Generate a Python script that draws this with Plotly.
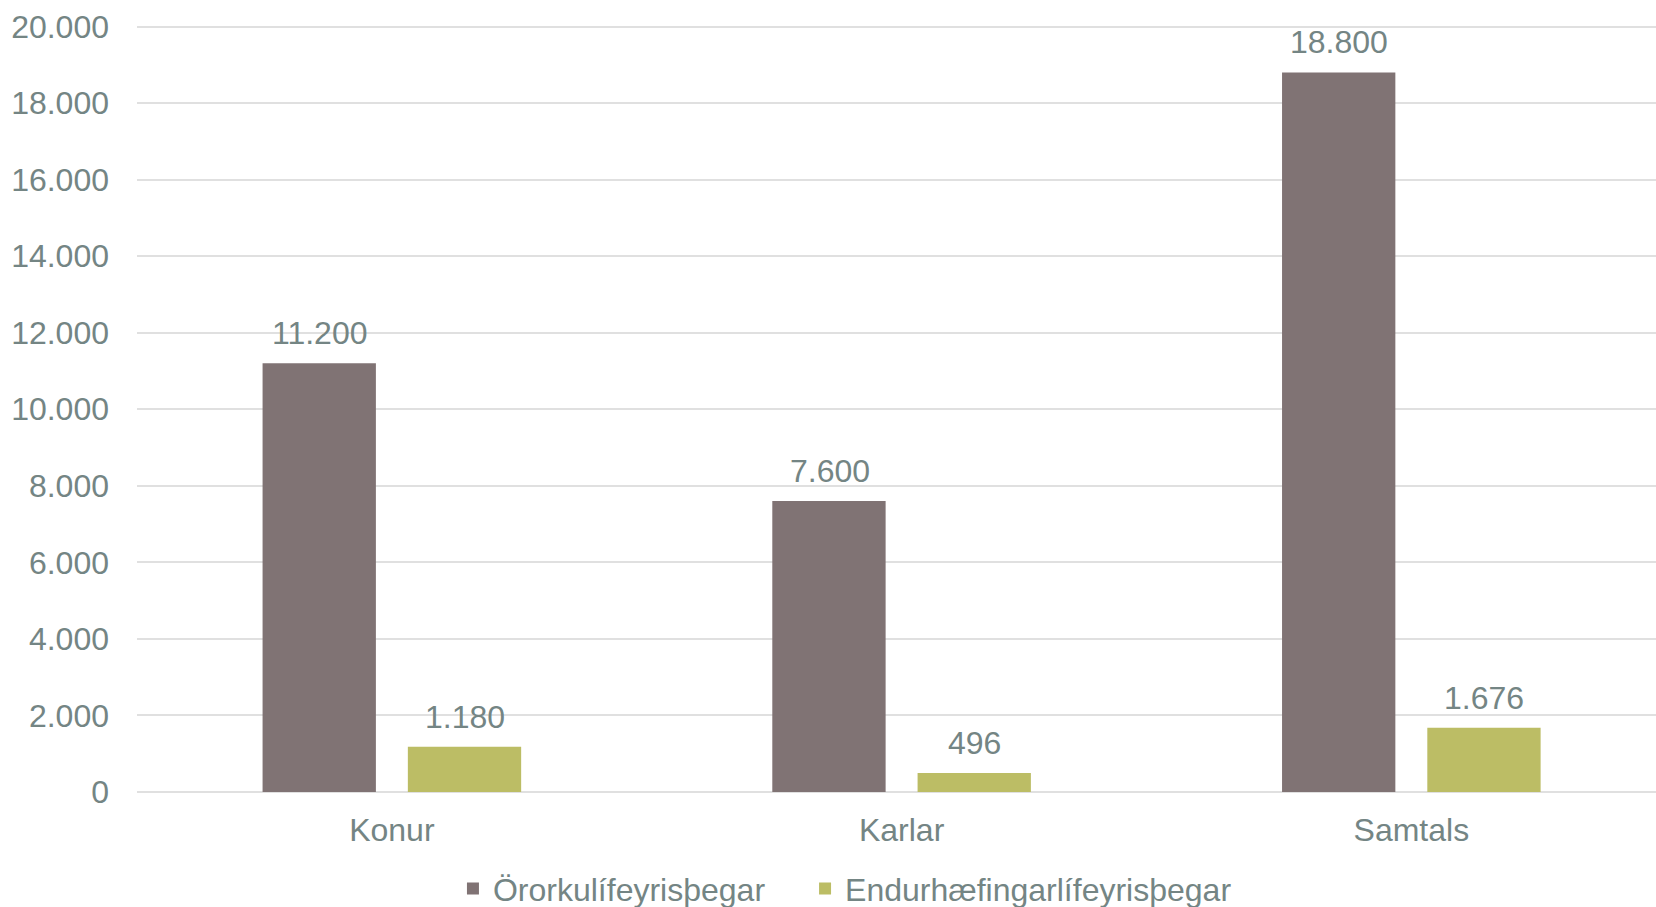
import plotly.graph_objects as go

categories = ["Konur", "Karlar", "Samtals"]
series_names = ["Örorkulífeyrisþegar", "Endurhæfingarlífeyrisþegar"]
ororka = [11200, 7600, 18800]
endurhaefing = [1180, 496, 1676]
y_ticks = [0, 2000, 4000, 6000, 8000, 10000, 12000, 14000, 16000, 18000, 20000]

TEXT = "#748584"
FONT = "Liberation Sans, Arial, sans-serif"
FS = 32

fig = go.Figure()
fig.add_trace(go.Bar(
    x=categories, y=ororka, name=series_names[0],
    marker=dict(color="#807374", line=dict(width=0)),
    legend="legend",
))
fig.add_trace(go.Bar(
    x=categories, y=endurhaefing, name=series_names[1],
    marker=dict(color="#BCBD65", line=dict(width=0)),
    legend="legend2",
))

def fmt(v):
    return f"{v:,}".replace(",", ".")

annotations = []
for series, shift in ((ororka, -72), (endurhaefing, 73)):
    for c, v in zip(categories, series):
        annotations.append(dict(
            x=c, y=v, xref="x", yref="y", text=fmt(v), showarrow=False,
            xshift=shift, yshift=30, yanchor="middle",
            font=dict(size=FS, color=TEXT, family=FONT),
        ))

legend_common = dict(orientation="h", xanchor="left", y=-0.126, yanchor="middle",
                     font=dict(size=FS, color=TEXT, family=FONT), itemwidth=30,
                     bgcolor="rgba(0,0,0,0)")

fig.update_layout(
    width=1656, height=907,
    margin=dict(l=137, r=0, t=25, b=115, autoexpand=False),
    paper_bgcolor="white", plot_bgcolor="white",
    separators=",.",
    barmode="group", bargap=0.43, bargroupgap=0.22,
    font=dict(family=FONT, size=FS, color=TEXT),
    showlegend=True,
    legend=dict(x=0.208, **legend_common),
    legend2=dict(x=0.4398, **legend_common),
    annotations=annotations,
)
fig.update_yaxes(
    range=[0, 20040], tickvals=y_ticks, tickformat=",d", automargin=False,
    showgrid=True, gridcolor="#E0E0E0", gridwidth=2,
    zeroline=True, zerolinecolor="#E0E0E0", zerolinewidth=2,
    showline=False, ticks="", ticklabelstandoff=27,
    tickfont=dict(size=FS, color=TEXT, family=FONT),
)
fig.update_xaxes(
    range=[-0.5, 2.48], automargin=False,
    showline=False, showgrid=False, ticks="",
    ticklabelstandoff=16,
    tickfont=dict(size=FS, color=TEXT, family=FONT),
)

fig.write_html(
    "out.html",
    config={"displayModeBar": False},
    post_script=(
        "var h=document.documentElement,b=document.body;"
        "h.style.margin='0';h.style.padding='0';h.style.overflow='hidden';"
        "b.style.margin='0';b.style.padding='0';b.style.overflow='hidden';"
    ),
)
